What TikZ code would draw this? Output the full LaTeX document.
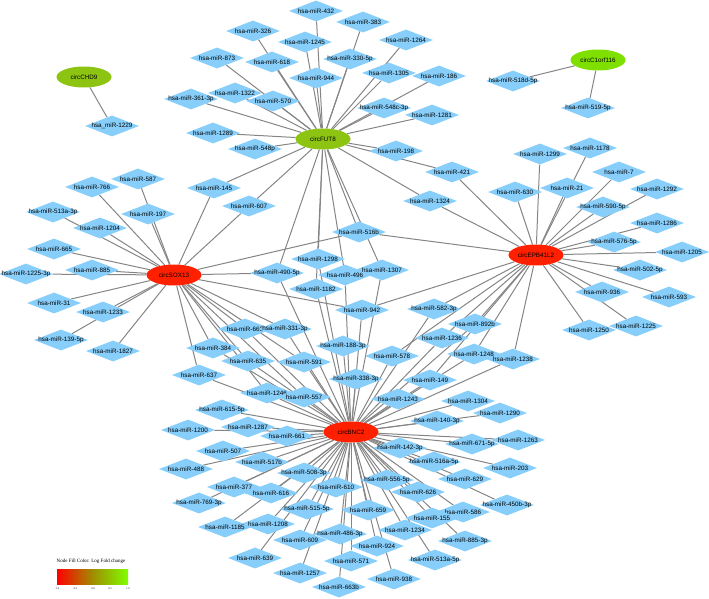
\documentclass[tikz,border=0pt]{standalone}
\usepackage{fontspec}
\setmainfont{Liberation Sans}
\newfontfamily\legendserif{Liberation Serif}
\usepackage{tikz}
\usetikzlibrary{shapes.geometric,backgrounds}
\definecolor{mirblue}{HTML}{87CEFA}
\definecolor{hubred}{HTML}{FF2000}
\definecolor{hubgreen}{HTML}{8DC412}
\definecolor{hublime}{HTML}{7FE000}
\definecolor{linkgray}{HTML}{858585}
\definecolor{fcmid}{HTML}{A08C00}
\definecolor{fchigh}{HTML}{80FF00}
\newsavebox\mirtext
\tikzset{
  mir/.style={diamond,fill=mirblue,minimum width=54pt,minimum height=21pt,
              inner sep=0pt,font=\fontsize{6.3}{7}\selectfont,
              execute at begin node={\setbox\mirtext=\hbox\bgroup},
              execute at end node={\egroup\hbox to 0pt{\hss\box\mirtext\hss}}},
  hub/.style={ellipse,fill=hubred,minimum width=55pt,minimum height=21pt,
              inner sep=0pt,font=\fontsize{6.3}{7}\selectfont},
  greenhub/.style={hub,fill=hubgreen},
  limehub/.style={hub,fill=hublime},
  link/.style={draw=linkgray,line width=1pt},
  ticklabel/.style={font=\legendserif\fontsize{2.6}{3}\selectfont,inner sep=0pt}
}

\begin{document}
\begin{tikzpicture}[x=1pt,y=-1pt]
    \path[use as bounding box] (0,0) rectangle (709,598);

    % circRNA hubs
    \node[greenhub] (chd9) at (84,77) {circCHD9};
    \node[greenhub] (fut8) at (323,139) {circFUT8};
    \node[limehub] (c1orf) at (598,60) {circC1orf116};
    \node[hub] (sox13) at (174,275) {circSOX13};
    \node[hub] (epb) at (536,255) {circEPB41L2};
    \node[hub] (bnc2) at (351,432) {circBNC2};

    % miRNAs
    \node[mir] (m1229) at (112,126) {hsa\_miR-1229};
    \node[mir] (m873) at (217,58) {hsa-miR-873};
    \node[mir] (m3613p) at (191,99) {hsa-miR-361-3p};
    \node[mir] (m1322) at (235,93) {hsa-miR-1322};
    \node[mir] (m1289) at (213,133) {hsa-miR-1289};
    \node[mir] (m766) at (92,187) {hsa-miR-766};
    \node[mir] (m587) at (138,179) {hsa-miR-587};
    \node[mir] (m145) at (214,188) {hsa-miR-145};
    \node[mir] (m326) at (253,31) {hsa-miR-326};
    \node[mir] (m432) at (316,11) {hsa-miR-432};
    \node[mir] (m383) at (363,22) {hsa-miR-383};
    \node[mir] (m1245) at (305,42) {hsa-miR-1245};
    \node[mir] (m1264) at (406,40) {hsa-miR-1264};
    \node[mir] (m618) at (272,62) {hsa-miR-618};
    \node[mir] (m3305p) at (350,59) {hsa-miR-330-5p};
    \node[mir] (m944) at (316,78) {hsa-miR-944};
    \node[mir] (m1305) at (389,73) {hsa-miR-1305};
    \node[mir] (m186) at (439,76) {hsa-miR-186};
    \node[mir] (m570) at (273,101) {hsa-miR-570};
    \node[mir] (m548c3p) at (384,108) {hsa-miR-548c-3p};
    \node[mir] (m1281) at (432,115) {hsa-miR-1281};
    \node[mir] (m548p) at (255,149) {hsa-miR-548p};
    \node[mir] (m198) at (396,151) {hsa-miR-198};
    \node[mir] (m421) at (452,172) {hsa-miR-421};
    \node[mir] (m1324) at (430,201) {hsa-miR-1324};
    \node[mir] (m518d5p) at (513,81) {hsa-miR-518d-5p};
    \node[mir] (m5195p) at (588,108) {hsa-miR-519-5p};
    \node[mir] (m1299) at (540,154) {hsa-miR-1299};
    \node[mir] (m1178) at (590,148) {hsa-miR-1178};
    \node[mir] (m7) at (619,172) {hsa-miR-7};
    \node[mir] (m630) at (515,192) {hsa-miR-630};
    \node[mir] (m21) at (567,188) {hsa-miR-21};
    \node[mir] (m1292) at (657,189) {hsa-miR-1292};
    \node[mir] (m5905p) at (603,207) {hsa-miR-590-5p};
    \node[mir] (m1286) at (657,223) {hsa-miR-1286};
    \node[mir] (m5765p) at (614,242) {hsa-miR-576-5p};
    \node[mir] (m1205) at (682,252) {hsa-miR-1205};
    \node[mir] (m5025p) at (640,270) {hsa-miR-502-5p};
    \node[mir] (m936) at (602,292) {hsa-miR-936};
    \node[mir] (m593) at (669,297) {hsa-miR-593};
    \node[mir] (m1250) at (589,330) {hsa-miR-1250};
    \node[mir] (m1225) at (636,326) {hsa-miR-1225};
    \node[mir] (m892b) at (475,324) {hsa-miR-892b};
    \node[mir] (m1236) at (442,338) {hsa-miR-1236};
    \node[mir] (m1248) at (474,354) {hsa-miR-1248};
    \node[mir] (m1238) at (513,359) {hsa-miR-1238};
    \node[mir] (m513a3p) at (53,212) {hsa-miR-513a-3p};
    \node[mir] (m197) at (148,214) {hsa-miR-197};
    \node[mir] (m1204) at (100,228) {hsa-miR-1204};
    \node[mir] (m665) at (54,249) {hsa-miR-665};
    \node[mir] (m12253p) at (26,274) {hsa-miR-1225-3p};
    \node[mir] (m885) at (92,270) {hsa-miR-885};
    \node[mir] (m31) at (54,303) {hsa-miR-31};
    \node[mir] (m1395p) at (61,340) {hsa-miR-139-5p};
    \node[mir] (m1233) at (103,312) {hsa-miR-1233};
    \node[mir] (m1827) at (113,351) {hsa-miR-1827};
    \node[mir] (m607) at (249,206) {hsa-miR-607};
    \node[mir] (m516b) at (359,232) {hsa-miR-516b};
    \node[mir] (m1298) at (318,259) {hsa-miR-1298};
    \node[mir] (m4905p) at (277,273) {hsa-miR-490-5p};
    \node[mir] (m496) at (345,275) {hsa-miR-496};
    \node[mir] (m1307) at (382,270) {hsa-miR-1307};
    \node[mir] (m1182) at (316,289) {hsa-miR-1182};
    \node[mir] (m942) at (362,310) {hsa-miR-942};
    \node[mir] (m5823p) at (434,309) {hsa-miR-582-3p};
    \node[mir] (m660) at (245,329) {hsa-miR-660};
    \node[mir] (m3313p) at (285,329) {hsa-miR-331-3p};
    \node[mir] (m384) at (213,348) {hsa-miR-384};
    \node[mir] (m1883p) at (343,346) {hsa-miR-188-3p};
    \node[mir] (m578) at (392,356) {hsa-miR-578};
    \node[mir] (m635) at (248,361) {hsa-miR-635};
    \node[mir] (m591) at (304,362) {hsa-miR-591};
    \node[mir] (m637) at (199,375) {hsa-miR-637};
    \node[mir] (m3383p) at (356,379) {hsa-miR-338-3p};
    \node[mir] (m149) at (430,380) {hsa-miR-149};
    \node[mir] (m1246) at (267,393) {hsa-miR-1246};
    \node[mir] (m557) at (304,397) {hsa-miR-557};
    \node[mir] (m1243) at (398,399) {hsa-miR-1243};
    \node[mir] (m1304) at (468,401) {hsa-miR-1304};
    \node[mir] (m1290) at (500,413) {hsa-miR-1290};
    \node[mir] (m1403p) at (437,421) {hsa-miR-140-3p};
    \node[mir] (m6155p) at (222,410) {hsa-miR-615-5p};
    \node[mir] (m1200) at (188,430) {hsa-miR-1200};
    \node[mir] (m1287) at (248,427) {hsa-miR-1287};
    \node[mir] (m661) at (287,436) {hsa-miR-661};
    \node[mir] (m1263) at (518,440) {hsa-miR-1263};
    \node[mir] (m6715p) at (472,444) {hsa-miR-671-5p};
    \node[mir] (m1423p) at (400,448) {hsa-miR-142-3p};
    \node[mir] (m507) at (223,451) {hsa-miR-507};
    \node[mir] (m517b) at (262,462) {hsa-miR-517b};
    \node[mir] (m516a5p) at (434,462) {hsa-miR-516a-5p};
    \node[mir] (m203) at (510,468) {hsa-miR-203};
    \node[mir] (m488) at (186,469) {hsa-miR-488};
    \node[mir] (m5083p) at (304,473) {hsa-miR-508-3p};
    \node[mir] (m629) at (465,479) {hsa-miR-629};
    \node[mir] (m5565p) at (387,480) {hsa-miR-556-5p};
    \node[mir] (m377) at (234,487) {hsa-miR-377};
    \node[mir] (m610) at (336,487) {hsa-miR-610};
    \node[mir] (m626) at (418,492) {hsa-miR-626};
    \node[mir] (m616) at (271,493) {hsa-miR-616};
    \node[mir] (m7693p) at (199,503) {hsa-miR-769-3p};
    \node[mir] (m450b3p) at (507,505) {hsa-miR-450b-3p};
    \node[mir] (m5155p) at (307,509) {hsa-miR-515-5p};
    \node[mir] (m659) at (368,510) {hsa-miR-659};
    \node[mir] (m586) at (463,512) {hsa-miR-586};
    \node[mir] (m155) at (432,518) {hsa-miR-155};
    \node[mir] (m1208) at (268,524) {hsa-miR-1208};
    \node[mir] (m1185) at (225,527) {hsa-miR-1185};
    \node[mir] (m1234) at (405,530) {hsa-miR-1234};
    \node[mir] (m4863p) at (340,534) {hsa-miR-486-3p};
    \node[mir] (m609) at (300,540) {hsa-miR-609};
    \node[mir] (m8853p) at (465,541) {hsa-miR-885-3p};
    \node[mir] (m924) at (377,546) {hsa-miR-924};
    \node[mir] (m639) at (255,558) {hsa-miR-639};
    \node[mir] (m513a5p) at (435,560) {hsa-miR-513a-5p};
    \node[mir] (m571) at (351,561) {hsa-miR-571};
    \node[mir] (m1257) at (300,573) {hsa-miR-1257};
    \node[mir] (m938) at (394,579) {hsa-miR-938};
    \node[mir] (m663b) at (339,587) {hsa-miR-663b};

    % interactions, behind the nodes
    \begin{pgfonlayer}{background}
      \draw[link] (chd9) -- (m1229);
      \foreach \m in {m518d5p,m5195p}
        \draw[link] (c1orf) -- (\m);
      \foreach \m in {m432,m383,m326,m1245,m1264,m873,m618,m3305p,m944,m1305,
                      m186,m3613p,m1322,m570,m548c3p,m1281,m1289,m548p,m198,
                      m421,m1324,m145,m607,m4905p,m1298,m496,m1307,m1182,m516b}
        \draw[link] (fut8) -- (\m);
      \foreach \m in {m513a3p,m197,m1204,m665,m885,m12253p,m31,m1233,m1395p,
                      m1827,m766,m587,m145,m607,m516b,m4905p,m942,m384,m637,
                      m660,m635,m3313p,m591,m1246,m557}
        \draw[link] (sox13) -- (\m);
      \foreach \m in {m1299,m1178,m7,m630,m21,m1292,m5905p,m1286,m5765p,m1205,
                      m5025p,m936,m593,m1250,m1225,m421,m1324,m516b,m942,
                      m5823p,m892b,m1236,m1248,m1238,m578,m149}
        \draw[link] (epb) -- (\m);
      \foreach \m in {m942,m1298,m496,m1307,m1182,m4905p,m1883p,m3383p,m578,
                      m5823p,m892b,m1236,m1248,m1238,m149,m1243,m1304,m1290,
                      m1403p,m6715p,m1263,m1423p,m516a5p,m203,m629,m450b3p,
                      m586,m8853p,m513a5p,m938,m155,m1234,m924,m626,m5565p,
                      m659,m571,m663b,m4863p,m610,m609,m1257,m5155p,m639,
                      m1208,m1185,m616,m5083p,m377,m7693p,m517b,m488,m507,
                      m661,m1287,m1200,m6155p,m1246,m557,m591,m635,m384,
                      m637,m660,m3313p}
        \draw[link] (bnc2) -- (\m);
    \end{pgfonlayer}

    % colour legend
    \node[font=\legendserif\fontsize{5}{6}\selectfont,inner sep=0pt] (legtitle)
      at (91,561) {Node Fill Color: Log Fold change};
    \shade[left color=red,right color=fchigh,middle color=fcmid]
      (57,569) rectangle (128,584);
    \node[ticklabel] (tk1) at (57,589) {-1.0};
    \node[ticklabel] (tk2) at (75,589) {-0.5};
    \node[ticklabel] (tk3) at (93,589) {0.0};
    \node[ticklabel] (tk4) at (110,589) {0.5};
    \node[ticklabel] (tk5) at (128,589) {1.0};
  \end{tikzpicture}
\end{document}
